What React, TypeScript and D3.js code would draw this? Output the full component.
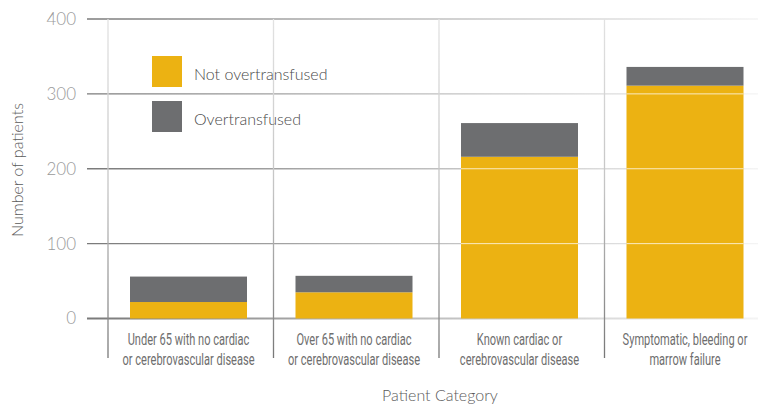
import React from "react";
import * as d3 from "d3";

const categories = [
  ["Under 65 with no cardiac", "or cerebrovascular disease"],
  ["Over 65 with no cardiac", "or cerebrovascular disease"],
  ["Known cardiac or", "cerebrovascular disease"],
  ["Symptomatic, bleeding or", "marrow failure"],
];
const notOvertransfused = [22, 35, 216, 311];
const overtransfused = [34, 22, 45, 25];
const yTicks = [0, 100, 200, 300, 400];
const seriesNames = ["Not overtransfused", "Overtransfused"];
const colors = ["#ECB212", "#6D6E70"];

const W = 758;
const H = 406;
const FONT = "Lato, 'Open Sans', sans-serif";
const NARROW = "Roboto, 'DejaVu Sans', sans-serif";

export default function App() {
  const keys = categories.map((c) => c.join(" "));
  const x = d3.scaleBand().domain(keys).range([108, 770]);
  const y = d3.scaleLinear().domain([0, 400]).range([318.5, 19]);
  const barOff = 22;
  const barW = 117;

  const rows = keys.map((k, i) => ({ key: k, a: notOvertransfused[i], b: overtransfused[i] }));
  const stack = d3.stack<any>().keys(["a", "b"])(rows);

  return (
    <svg
      width={W}
      height={H}
      style={{ position: "absolute", left: 0, top: 0, background: "#fff" }}
    >
      <defs>
        <linearGradient id="hgrad" x1="87" x2="758" y1="0" y2="0" gradientUnits="userSpaceOnUse">
          <stop offset="0" stopColor="#7a7a7a" />
          <stop offset="0.45" stopColor="#b8b8b8" />
          <stop offset="1" stopColor="#f4f4f4" />
        </linearGradient>
        <linearGradient id="vgrad" x1="0" x2="0" y1="19" y2="358" gradientUnits="userSpaceOnUse">
          <stop offset="0" stopColor="#e2e2e2" />
          <stop offset="0.5" stopColor="#c4c4c4" />
          <stop offset="0.9" stopColor="#888" />
          <stop offset="1" stopColor="#777" />
        </linearGradient>
      </defs>

      {/* horizontal gridlines */}
      {yTicks.map((t) => (
        <line
          key={"g" + t}
          x1={87}
          x2={W}
          y1={y(t)}
          y2={y(t)}
          stroke="url(#hgrad)"
          strokeWidth={t === 0 ? 2.2 : 1.3}
        />
      ))}

      {/* vertical dividers */}
      {keys.map((k) => (
        <line
          key={"v" + k}
          x1={x(k)!}
          x2={x(k)!}
          y1={19}
          y2={358}
          stroke="url(#vgrad)"
          strokeWidth={1.3}
        />
      ))}

      {/* bars */}
      {stack.map((s, si) =>
        s.map((d, i) => (
          <rect
            key={si + "-" + i}
            x={x(keys[i])! + barOff}
            width={barW}
            y={y(d[1])}
            height={y(d[0]) - y(d[1])}
            fill={colors[si]}
          />
        ))
      )}

      {/* faint gridline crossing over bars */}
      {yTicks.filter((t) => t > 0).map((t) =>
        keys.map((k, i) =>
          notOvertransfused[i] + overtransfused[i] > t ? (
            <line
              key={"w" + t + k}
              x1={x(k)! + barOff}
              x2={x(k)! + barOff + barW}
              y1={y(t)}
              y2={y(t)}
              stroke="#fff"
              strokeOpacity={0.75}
              strokeWidth={1}
            />
          ) : null
        )
      )}

      {/* y tick labels */}
      {yTicks.map((t) => (
        <text
          key={"t" + t}
          x={76}
          y={y(t)}
          dy="0.35em"
          textAnchor="end"
          fontFamily={FONT}
          fontSize={17}
          fontWeight={300}
          fill="#9a9a9a"
        >
          {t}
        </text>
      ))}

      {/* y title */}
      <text
        transform="translate(23,170) rotate(-90)"
        textAnchor="middle"
        fontFamily={FONT}
        fontSize={16}
        fontWeight={300}
        fill="#5a5a5a"
      >
        Number of patients
      </text>

      {/* category labels */}
      {categories.map((lines, i) => (
        <g
          key={"c" + i}
          transform={`translate(${x(keys[i])! + barOff + barW / 2},0) scale(0.67,1)`}
        >
          <text
            x={0}
            y={345}
            textAnchor="middle"
            fontFamily={NARROW}
            fontSize={16.5}
            fill="#6e6e6e"
          >
            {lines.map((l, j) => (
              <tspan key={j} x={0} dy={j === 0 ? 0 : 20}>
                {l}
              </tspan>
            ))}
          </text>
        </g>
      ))}

      {/* x title */}
      <text
        x={440}
        y={401}
        textAnchor="middle"
        fontFamily={FONT}
        fontSize={16}
        fontWeight={300}
        fill="#5a5a5a"
      >
        Patient Category
      </text>

      {/* legend */}
      {seriesNames.map((n, i) => (
        <g key={"l" + i} transform={`translate(152,${56 + i * 45})`}>
          <rect width={30} height={31} fill={colors[i]} />
          <text x={42} y={24} fontFamily={FONT} fontSize={16} fontWeight={300} fill="#4a4a4a">
            {n}
          </text>
        </g>
      ))}
    </svg>
  );
}
